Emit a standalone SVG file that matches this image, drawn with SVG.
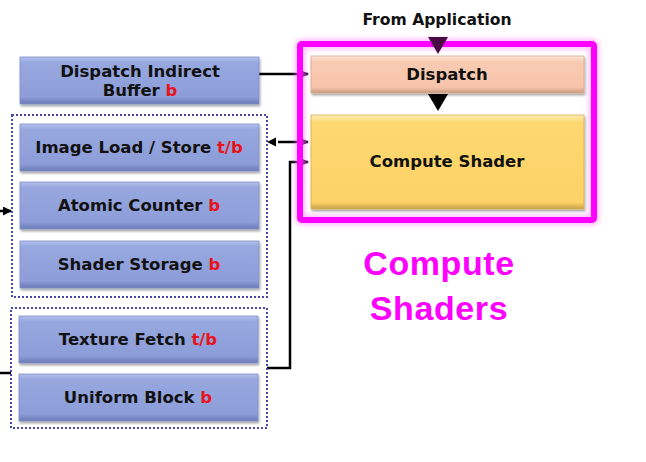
<svg xmlns="http://www.w3.org/2000/svg" width="646" height="462" viewBox="0 0 646 462">
<defs>
<linearGradient id="gBlue" x1="0" y1="0" x2="0" y2="1">
<stop offset="0" stop-color="#b4c0ec"/>
<stop offset="0.12" stop-color="#97a7df"/>
<stop offset="0.85" stop-color="#8d9dd8"/>
<stop offset="1" stop-color="#6a7ab4"/>
</linearGradient>
<linearGradient id="gPeach" x1="0" y1="0" x2="0" y2="1">
<stop offset="0" stop-color="#fde6da"/>
<stop offset="0.15" stop-color="#f9cbb3"/>
<stop offset="0.85" stop-color="#f7c4aa"/>
<stop offset="1" stop-color="#c9977f"/>
</linearGradient>
<linearGradient id="gGold" x1="0" y1="0" x2="0" y2="1">
<stop offset="0" stop-color="#feeeb4"/>
<stop offset="0.08" stop-color="#fdd871"/>
<stop offset="0.93" stop-color="#fcd266"/>
<stop offset="1" stop-color="#c9a24a"/>
</linearGradient>
<filter id="shadow" x="-5%" y="-10%" width="112%" height="130%">
<feGaussianBlur in="SourceAlpha" stdDeviation="1.2"/>
<feOffset dx="1" dy="2" result="b"/>
<feComponentTransfer><feFuncA type="linear" slope="0.35"/></feComponentTransfer>
<feMerge><feMergeNode/><feMergeNode in="SourceGraphic"/></feMerge>
</filter>
<filter id="glow" x="-10%" y="-10%" width="120%" height="120%">
<feGaussianBlur stdDeviation="2.5"/>
</filter>
<marker id="ahP" markerWidth="8" markerHeight="8" refX="7" refY="4" orient="auto" markerUnits="userSpaceOnUse">
<path d="M0,0 L8,4 L0,8 Z" fill="#4a0a48"/>
</marker>
<marker id="ahB" markerWidth="9" markerHeight="9" refX="8" refY="4.5" orient="auto" markerUnits="userSpaceOnUse">
<path d="M0,0 L9,4.5 L0,9 Z" fill="#000"/>
</marker>
</defs>
<style>
.box{filter:url(#shadow);}
.blue{fill:url(#gBlue);stroke:#8090c8;stroke-width:0.8;}
.lbl{font-family:"DejaVu Sans",sans-serif;font-weight:bold;font-size:16.5px;fill:#111;text-anchor:middle;}
.red{fill:#e8141c;}
.dot{fill:none;stroke:#4848b0;stroke-width:2;stroke-dasharray:2 2;}
.ln{fill:none;stroke:#000;stroke-width:2.5;}
.big{font-family:"Liberation Sans",Arial,sans-serif;font-weight:bold;font-size:34px;fill:#ff00ff;text-anchor:middle;letter-spacing:0.6px;}
</style>

<g id="connectors">
<line class="ln" x1="259" y1="74" x2="308" y2="74" marker-end="url(#ahP)"/>
<line class="ln" x1="278" y1="142" x2="308" y2="142" marker-end="url(#ahP)"/>
<path d="M276,137.5 L267,142 L276,146.5 Z" fill="#000"/>
<polyline class="ln" points="267,368 290,368 290,162 308,162" marker-end="url(#ahP)"/>
<line class="ln" x1="0" y1="211" x2="11" y2="211" marker-end="url(#ahB)"/>
<line class="ln" x1="0" y1="373" x2="11" y2="373"/>
</g>

<g id="compute-group">
<rect x="300" y="44" width="294" height="176" rx="2" fill="none" stroke="#ff80ff" stroke-width="10" opacity="0.55" filter="url(#glow)"/>
<rect x="300" y="44" width="294" height="176" rx="2" fill="none" stroke="#ff00ff" stroke-width="6"/>
</g>

<g id="from-app">
<text x="437" y="25" style="font-family:'DejaVu Sans',sans-serif;font-weight:bold;font-size:15.6px;fill:#111;text-anchor:middle;">From Application</text>
<path d="M428,37 L448,37 L438,54 Z" fill="#4a0a48"/>
</g>

<g id="dispatch">
<rect class="box" x="311" y="56" width="273" height="37" fill="url(#gPeach)" stroke="#d8a890" stroke-width="0.8"/>
<text class="lbl" x="447" y="80">Dispatch</text>
</g>

<g id="dispatch-arrow">
<path d="M428,94 L448,94 L438,111 Z" fill="#000"/>
</g>

<g id="compute-shader">
<rect class="box" x="311" y="115" width="273" height="94" fill="url(#gGold)" stroke="#d8b050" stroke-width="0.8"/>
<text class="lbl" x="447" y="167">Compute Shader</text>
</g>

<g id="dispatch-indirect-buffer">
<rect class="box blue" x="20" y="57" width="239" height="47"/>
<text class="lbl" x="140" y="77">Dispatch Indirect</text>
<text class="lbl" x="140" y="96">Buffer <tspan class="red">b</tspan></text>
</g>

<g id="group-rw">
<rect class="dot" x="12" y="115" width="255" height="182"/>
</g>

<g id="image-load-store">
<rect class="box blue" x="20" y="124" width="239" height="47"/>
<text class="lbl" x="139" y="153">Image Load / Store <tspan class="red">t/b</tspan></text>
</g>

<g id="atomic-counter">
<rect class="box blue" x="20" y="182" width="239" height="47"/>
<text class="lbl" x="139" y="211">Atomic Counter <tspan class="red">b</tspan></text>
</g>

<g id="shader-storage">
<rect class="box blue" x="20" y="241" width="239" height="47"/>
<text class="lbl" x="139" y="270">Shader Storage <tspan class="red">b</tspan></text>
</g>

<g id="group-ro">
<rect class="dot" x="11" y="308" width="256" height="120"/>
</g>

<g id="texture-fetch">
<rect class="box blue" x="19" y="316" width="239" height="47"/>
<text class="lbl" x="138" y="345">Texture Fetch <tspan class="red">t/b</tspan></text>
</g>

<g id="uniform-block">
<rect class="box blue" x="19" y="374" width="239" height="47"/>
<text class="lbl" x="138" y="403">Uniform Block <tspan class="red">b</tspan></text>
</g>

<g id="title">
<text class="big" x="439" y="275">Compute</text>
<text class="big" x="439" y="320">Shaders</text>
</g>
</svg>
